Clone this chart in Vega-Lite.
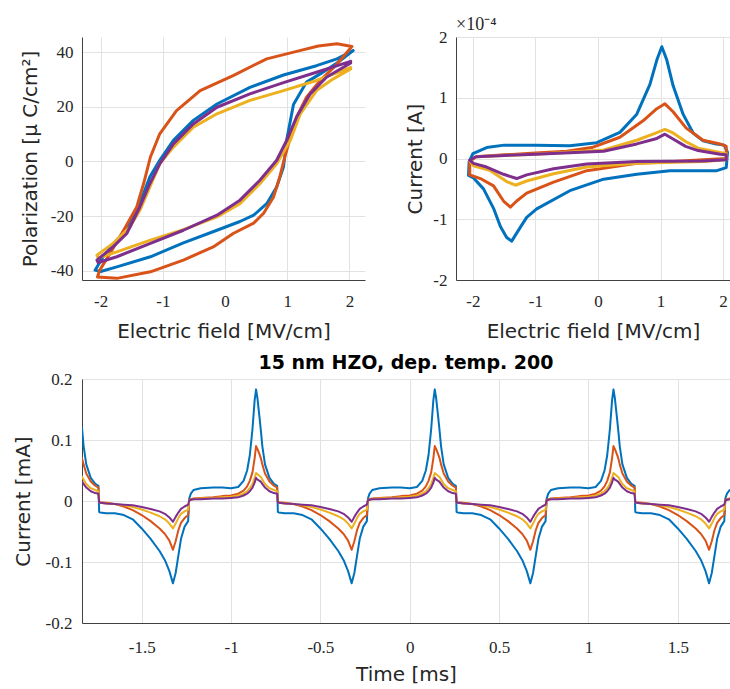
{
"$schema": "https://vega.github.io/schema/vega-lite/v6.json",
"background": "white",
"padding": {"left": 13, "top": 16, "right": 0, "bottom": 0},
"spacing": 13,
"config": {
  "view": {"stroke": null},
  "axis": {"domainColor": "#404040", "domainWidth": 1, "gridColor": "#e2e2e2", "gridWidth": 1, "ticks": false, "labelFont": "Liberation Serif", "labelFontSize": 17, "labelColor": "#262626", "labelFlush": false, "labelPadding": 9, "titleFont": "DejaVu Sans", "titleFontSize": 20, "titleFontWeight": "normal", "titleColor": "#262626", "labelExpr": "toString(datum.value)"},
  "line": {"strokeJoin": "round", "strokeCap": "round"}
},
"datasets": {
"pe": [
{"s":"1","o":1,"x":2.06,"y":40.5},{"s":"1","o":2,"x":1.8,"y":37.5},{"s":"1","o":3,"x":1.47,"y":35.0},{"s":"1","o":4,"x":0.94,"y":31.6},{"s":"1","o":5,"x":0.4,"y":27.1},{"s":"1","o":6,"x":-0.13,"y":21.0},{"s":"1","o":7,"x":-0.51,"y":15.0},{"s":"1","o":8,"x":-0.83,"y":7.7},{"s":"1","o":9,"x":-1.05,"y":0.4},{"s":"1","o":10,"x":-1.21,"y":-5.7},{"s":"1","o":11,"x":-1.31,"y":-11.8},{"s":"1","o":12,"x":-1.47,"y":-20.3},{"s":"1","o":13,"x":-1.69,"y":-27.6},{"s":"1","o":14,"x":-1.96,"y":-34.9},{"s":"1","o":15,"x":-2.09,"y":-39.8},{"s":"1","o":16,"x":-2.0,"y":-40.3},{"s":"1","o":17,"x":-1.74,"y":-38.6},{"s":"1","o":18,"x":-1.2,"y":-34.9},{"s":"1","o":19,"x":-0.67,"y":-29.8},{"s":"1","o":20,"x":-0.13,"y":-25.2},{"s":"1","o":21,"x":0.24,"y":-22.0},{"s":"1","o":22,"x":0.46,"y":-19.7},{"s":"1","o":23,"x":0.67,"y":-15.5},{"s":"1","o":24,"x":0.83,"y":-9.4},{"s":"1","o":25,"x":0.94,"y":-2.0},{"s":"1","o":26,"x":0.99,"y":7.7},{"s":"1","o":27,"x":1.1,"y":20.8},{"s":"1","o":28,"x":1.31,"y":29.0},{"s":"1","o":29,"x":1.53,"y":32.0},{"s":"1","o":30,"x":1.8,"y":36.0},{"s":"1","o":31,"x":2.06,"y":40.5},
{"s":"2","o":1,"x":2.04,"y":42.0},{"s":"2","o":2,"x":1.8,"y":43.0},{"s":"2","o":3,"x":1.5,"y":42.2},{"s":"2","o":4,"x":1.2,"y":40.5},{"s":"2","o":5,"x":0.67,"y":37.5},{"s":"2","o":6,"x":0.13,"y":31.4},{"s":"2","o":7,"x":-0.4,"y":25.9},{"s":"2","o":8,"x":-0.78,"y":18.6},{"s":"2","o":9,"x":-1.05,"y":10.1},{"s":"2","o":10,"x":-1.2,"y":1.6},{"s":"2","o":11,"x":-1.31,"y":-8.2},{"s":"2","o":12,"x":-1.42,"y":-16.7},{"s":"2","o":13,"x":-1.63,"y":-25.2},{"s":"2","o":14,"x":-1.85,"y":-33.7},{"s":"2","o":15,"x":-2.02,"y":-40.0},{"s":"2","o":16,"x":-2.05,"y":-42.3},{"s":"2","o":17,"x":-1.74,"y":-42.8},{"s":"2","o":18,"x":-1.2,"y":-40.4},{"s":"2","o":19,"x":-0.67,"y":-36.1},{"s":"2","o":20,"x":-0.19,"y":-31.3},{"s":"2","o":21,"x":0.13,"y":-26.4},{"s":"2","o":22,"x":0.46,"y":-22.6},{"s":"2","o":23,"x":0.62,"y":-19.0},{"s":"2","o":24,"x":0.78,"y":-13.0},{"s":"2","o":25,"x":0.88,"y":-5.7},{"s":"2","o":26,"x":0.96,"y":1.6},{"s":"2","o":27,"x":1.05,"y":8.8},{"s":"2","o":28,"x":1.15,"y":16.2},{"s":"2","o":29,"x":1.31,"y":23.5},{"s":"2","o":30,"x":1.53,"y":29.6},{"s":"2","o":31,"x":1.8,"y":35.6},{"s":"2","o":32,"x":2.04,"y":42.0},
{"s":"3","o":1,"x":2.02,"y":34.3},{"s":"3","o":2,"x":1.47,"y":29.6},{"s":"3","o":3,"x":0.94,"y":25.9},{"s":"3","o":4,"x":0.4,"y":22.3},{"s":"3","o":5,"x":-0.13,"y":17.4},{"s":"3","o":6,"x":-0.51,"y":12.5},{"s":"3","o":7,"x":-0.83,"y":5.2},{"s":"3","o":8,"x":-1.05,"y":-0.9},{"s":"3","o":9,"x":-1.21,"y":-9.4},{"s":"3","o":10,"x":-1.37,"y":-17.9},{"s":"3","o":11,"x":-1.53,"y":-24.0},{"s":"3","o":12,"x":-1.8,"y":-30.0},{"s":"3","o":13,"x":-2.06,"y":-34.3},{"s":"3","o":14,"x":-2.04,"y":-35.3},{"s":"3","o":15,"x":-1.74,"y":-33.1},{"s":"3","o":16,"x":-1.2,"y":-28.8},{"s":"3","o":17,"x":-0.67,"y":-25.0},{"s":"3","o":18,"x":-0.13,"y":-20.3},{"s":"3","o":19,"x":0.24,"y":-15.5},{"s":"3","o":20,"x":0.56,"y":-8.2},{"s":"3","o":21,"x":0.83,"y":-0.9},{"s":"3","o":22,"x":1.05,"y":7.7},{"s":"3","o":23,"x":1.21,"y":17.4},{"s":"3","o":24,"x":1.47,"y":25.9},{"s":"3","o":25,"x":1.74,"y":30.2},{"s":"3","o":26,"x":2.02,"y":33.8},
{"s":"4","o":1,"x":2.02,"y":36.6},{"s":"4","o":2,"x":1.47,"y":32.6},{"s":"4","o":3,"x":0.94,"y":28.8},{"s":"4","o":4,"x":0.4,"y":24.7},{"s":"4","o":5,"x":-0.13,"y":19.8},{"s":"4","o":6,"x":-0.51,"y":13.7},{"s":"4","o":7,"x":-0.83,"y":6.4},{"s":"4","o":8,"x":-1.05,"y":-0.9},{"s":"4","o":9,"x":-1.21,"y":-8.2},{"s":"4","o":10,"x":-1.37,"y":-16.7},{"s":"4","o":11,"x":-1.58,"y":-26.4},{"s":"4","o":12,"x":-1.8,"y":-31.3},{"s":"4","o":13,"x":-2.06,"y":-36.1},{"s":"4","o":14,"x":-2.04,"y":-37.0},{"s":"4","o":15,"x":-1.74,"y":-34.9},{"s":"4","o":16,"x":-1.2,"y":-30.0},{"s":"4","o":17,"x":-0.67,"y":-25.2},{"s":"4","o":18,"x":-0.13,"y":-19.7},{"s":"4","o":19,"x":0.24,"y":-14.2},{"s":"4","o":20,"x":0.56,"y":-6.9},{"s":"4","o":21,"x":0.83,"y":0.4},{"s":"4","o":22,"x":0.99,"y":7.7},{"s":"4","o":23,"x":1.15,"y":16.2},{"s":"4","o":24,"x":1.37,"y":24.7},{"s":"4","o":25,"x":1.63,"y":30.8},{"s":"4","o":26,"x":2.02,"y":36.0}
],
"ie": [
{"s":"1","o":1,"x":-2.06,"y":-0.05},{"s":"1","o":2,"x":-2.0,"y":0.08},{"s":"1","o":3,"x":-1.78,"y":0.18},{"s":"1","o":4,"x":-1.5,"y":0.22},{"s":"1","o":5,"x":-1.0,"y":0.22},{"s":"1","o":6,"x":-0.45,"y":0.21},{"s":"1","o":7,"x":-0.02,"y":0.26},{"s":"1","o":8,"x":0.35,"y":0.43},{"s":"1","o":9,"x":0.62,"y":0.73},{"s":"1","o":10,"x":0.83,"y":1.22},{"s":"1","o":11,"x":0.94,"y":1.62},{"s":"1","o":12,"x":1.02,"y":1.84},{"s":"1","o":13,"x":1.1,"y":1.62},{"s":"1","o":14,"x":1.2,"y":1.2},{"s":"1","o":15,"x":1.36,"y":0.73},{"s":"1","o":16,"x":1.52,"y":0.42},{"s":"1","o":17,"x":1.68,"y":0.29},{"s":"1","o":18,"x":1.89,"y":0.24},{"s":"1","o":19,"x":2.02,"y":0.22},{"s":"1","o":20,"x":2.07,"y":0.1},{"s":"1","o":21,"x":2.05,"y":-0.15},{"s":"1","o":22,"x":1.9,"y":-0.2},{"s":"1","o":23,"x":1.15,"y":-0.2},{"s":"1","o":24,"x":0.62,"y":-0.26},{"s":"1","o":25,"x":0.09,"y":-0.34},{"s":"1","o":26,"x":-0.45,"y":-0.53},{"s":"1","o":27,"x":-0.98,"y":-0.83},{"s":"1","o":28,"x":-1.14,"y":-0.97},{"s":"1","o":29,"x":-1.24,"y":-1.13},{"s":"1","o":30,"x":-1.38,"y":-1.36},{"s":"1","o":31,"x":-1.46,"y":-1.3},{"s":"1","o":32,"x":-1.56,"y":-1.12},{"s":"1","o":33,"x":-1.67,"y":-0.82},{"s":"1","o":34,"x":-1.83,"y":-0.5},{"s":"1","o":35,"x":-1.99,"y":-0.32},{"s":"1","o":36,"x":-2.07,"y":-0.28},{"s":"1","o":37,"x":-2.06,"y":-0.05},
{"s":"2","o":1,"x":-2.05,"y":-0.05},{"s":"2","o":2,"x":-1.95,"y":0.03},{"s":"2","o":3,"x":-1.5,"y":0.06},{"s":"2","o":4,"x":-1.0,"y":0.09},{"s":"2","o":5,"x":-0.5,"y":0.12},{"s":"2","o":6,"x":-0.1,"y":0.18},{"s":"2","o":7,"x":0.35,"y":0.35},{"s":"2","o":8,"x":0.72,"y":0.62},{"s":"2","o":9,"x":0.94,"y":0.82},{"s":"2","o":10,"x":1.07,"y":0.9},{"s":"2","o":11,"x":1.2,"y":0.77},{"s":"2","o":12,"x":1.41,"y":0.5},{"s":"2","o":13,"x":1.68,"y":0.3},{"s":"2","o":14,"x":1.95,"y":0.24},{"s":"2","o":15,"x":2.05,"y":0.2},{"s":"2","o":16,"x":2.05,"y":0.0},{"s":"2","o":17,"x":1.68,"y":-0.02},{"s":"2","o":18,"x":1.0,"y":-0.06},{"s":"2","o":19,"x":0.62,"y":-0.08},{"s":"2","o":20,"x":-0.18,"y":-0.2},{"s":"2","o":21,"x":-0.71,"y":-0.39},{"s":"2","o":22,"x":-1.14,"y":-0.57},{"s":"2","o":23,"x":-1.3,"y":-0.7},{"s":"2","o":24,"x":-1.4,"y":-0.8},{"s":"2","o":25,"x":-1.51,"y":-0.7},{"s":"2","o":26,"x":-1.67,"y":-0.45},{"s":"2","o":27,"x":-1.88,"y":-0.33},{"s":"2","o":28,"x":-2.05,"y":-0.27},{"s":"2","o":29,"x":-2.05,"y":-0.05},
{"s":"3","o":1,"x":-2.05,"y":-0.04},{"s":"3","o":2,"x":-1.95,"y":0.03},{"s":"3","o":3,"x":-1.0,"y":0.07},{"s":"3","o":4,"x":0.09,"y":0.14},{"s":"3","o":5,"x":0.62,"y":0.3},{"s":"3","o":6,"x":0.9,"y":0.41},{"s":"3","o":7,"x":1.07,"y":0.48},{"s":"3","o":8,"x":1.2,"y":0.42},{"s":"3","o":9,"x":1.4,"y":0.28},{"s":"3","o":10,"x":1.6,"y":0.17},{"s":"3","o":11,"x":1.95,"y":0.1},{"s":"3","o":12,"x":2.05,"y":0.08},{"s":"3","o":13,"x":2.05,"y":-0.02},{"s":"3","o":14,"x":1.68,"y":-0.05},{"s":"3","o":15,"x":0.62,"y":-0.08},{"s":"3","o":16,"x":-0.18,"y":-0.14},{"s":"3","o":17,"x":-0.71,"y":-0.25},{"s":"3","o":18,"x":-1.14,"y":-0.37},{"s":"3","o":19,"x":-1.32,"y":-0.44},{"s":"3","o":20,"x":-1.46,"y":-0.38},{"s":"3","o":21,"x":-1.72,"y":-0.2},{"s":"3","o":22,"x":-1.99,"y":-0.12},{"s":"3","o":23,"x":-2.05,"y":-0.04},
{"s":"4","o":1,"x":-2.05,"y":-0.03},{"s":"4","o":2,"x":-1.95,"y":0.03},{"s":"4","o":3,"x":-1.0,"y":0.07},{"s":"4","o":4,"x":0.09,"y":0.12},{"s":"4","o":5,"x":0.62,"y":0.24},{"s":"4","o":6,"x":0.94,"y":0.33},{"s":"4","o":7,"x":1.07,"y":0.4},{"s":"4","o":8,"x":1.2,"y":0.32},{"s":"4","o":9,"x":1.4,"y":0.2},{"s":"4","o":10,"x":1.6,"y":0.13},{"s":"4","o":11,"x":1.95,"y":0.07},{"s":"4","o":12,"x":2.05,"y":0.06},{"s":"4","o":13,"x":2.05,"y":-0.02},{"s":"4","o":14,"x":1.68,"y":-0.04},{"s":"4","o":15,"x":0.62,"y":-0.05},{"s":"4","o":16,"x":-0.18,"y":-0.09},{"s":"4","o":17,"x":-0.71,"y":-0.17},{"s":"4","o":18,"x":-1.14,"y":-0.27},{"s":"4","o":19,"x":-1.3,"y":-0.33},{"s":"4","o":20,"x":-1.51,"y":-0.26},{"s":"4","o":21,"x":-1.78,"y":-0.14},{"s":"4","o":22,"x":-1.99,"y":-0.08},{"s":"4","o":23,"x":-2.05,"y":-0.03}
],
"it": [
{"s":"1","t":-1.834,"v":0.12},{"s":"1","t":-1.825,"v":0.09},{"s":"1","t":-1.81,"v":0.06},{"s":"1","t":-1.785,"v":0.038},{"s":"1","t":-1.76,"v":0.028},{"s":"1","t":-1.742,"v":0.025},{"s":"1","t":-1.738,"v":-0.018},{"s":"1","t":-1.732,"v":-0.019},{"s":"1","t":-1.7,"v":-0.02},{"s":"1","t":-1.65,"v":-0.02},{"s":"1","t":-1.6,"v":-0.023},{"s":"1","t":-1.55,"v":-0.03},{"s":"1","t":-1.5,"v":-0.045},{"s":"1","t":-1.45,"v":-0.062},{"s":"1","t":-1.4,"v":-0.082},{"s":"1","t":-1.37,"v":-0.097},{"s":"1","t":-1.345,"v":-0.115},{"s":"1","t":-1.325,"v":-0.135},{"s":"1","t":-1.31,"v":-0.118},{"s":"1","t":-1.295,"v":-0.09},{"s":"1","t":-1.28,"v":-0.062},{"s":"1","t":-1.26,"v":-0.042},{"s":"1","t":-1.24,"v":-0.033},{"s":"1","t":-1.234,"v":0.004},{"s":"1","t":-1.225,"v":0.012},{"s":"1","t":-1.21,"v":0.018},{"s":"1","t":-1.17,"v":0.021},{"s":"1","t":-1.1,"v":0.022},{"s":"1","t":-1.05,"v":0.022},
{"s":"1","t":-1,"v":0.021},{"s":"1","t":-0.96,"v":0.023},{"s":"1","t":-0.93,"v":0.033},{"s":"1","t":-0.91,"v":0.05},{"s":"1","t":-0.895,"v":0.075},{"s":"1","t":-0.88,"v":0.118},{"s":"1","t":-0.868,"v":0.165},{"s":"1","t":-0.86,"v":0.183},{"s":"1","t":-0.852,"v":0.168},{"s":"1","t":-0.84,"v":0.135},{"s":"1","t":-0.832,"v":0.112},{"s":"1","t":-0.825,"v":0.09},{"s":"1","t":-0.81,"v":0.06},{"s":"1","t":-0.785,"v":0.038},{"s":"1","t":-0.76,"v":0.028},{"s":"1","t":-0.742,"v":0.025},{"s":"1","t":-0.738,"v":-0.018},{"s":"1","t":-0.732,"v":-0.019},{"s":"1","t":-0.7,"v":-0.02},{"s":"1","t":-0.65,"v":-0.02},{"s":"1","t":-0.6,"v":-0.023},{"s":"1","t":-0.55,"v":-0.03},{"s":"1","t":-0.5,"v":-0.045},{"s":"1","t":-0.45,"v":-0.062},{"s":"1","t":-0.4,"v":-0.082},{"s":"1","t":-0.37,"v":-0.097},{"s":"1","t":-0.345,"v":-0.115},{"s":"1","t":-0.325,"v":-0.135},{"s":"1","t":-0.31,"v":-0.118},{"s":"1","t":-0.295,"v":-0.09},{"s":"1","t":-0.28,"v":-0.062},{"s":"1","t":-0.26,"v":-0.042},{"s":"1","t":-0.24,"v":-0.033},{"s":"1","t":-0.234,"v":0.004},{"s":"1","t":-0.225,"v":0.012},{"s":"1","t":-0.21,"v":0.018},{"s":"1","t":-0.17,"v":0.021},{"s":"1","t":-0.1,"v":0.022},{"s":"1","t":-0.05,"v":0.022},
{"s":"1","t":0,"v":0.021},{"s":"1","t":0.04,"v":0.023},{"s":"1","t":0.07,"v":0.033},{"s":"1","t":0.09,"v":0.05},{"s":"1","t":0.105,"v":0.075},{"s":"1","t":0.12,"v":0.118},{"s":"1","t":0.132,"v":0.165},{"s":"1","t":0.14,"v":0.183},{"s":"1","t":0.148,"v":0.168},{"s":"1","t":0.16,"v":0.135},{"s":"1","t":0.168,"v":0.112},{"s":"1","t":0.175,"v":0.09},{"s":"1","t":0.19,"v":0.06},{"s":"1","t":0.215,"v":0.038},{"s":"1","t":0.24,"v":0.028},{"s":"1","t":0.258,"v":0.025},{"s":"1","t":0.262,"v":-0.018},{"s":"1","t":0.268,"v":-0.019},{"s":"1","t":0.3,"v":-0.02},{"s":"1","t":0.35,"v":-0.02},{"s":"1","t":0.4,"v":-0.023},{"s":"1","t":0.45,"v":-0.03},{"s":"1","t":0.5,"v":-0.045},{"s":"1","t":0.55,"v":-0.062},{"s":"1","t":0.6,"v":-0.082},{"s":"1","t":0.63,"v":-0.097},{"s":"1","t":0.655,"v":-0.115},{"s":"1","t":0.675,"v":-0.135},{"s":"1","t":0.69,"v":-0.118},{"s":"1","t":0.705,"v":-0.09},{"s":"1","t":0.72,"v":-0.062},{"s":"1","t":0.74,"v":-0.042},{"s":"1","t":0.76,"v":-0.033},{"s":"1","t":0.766,"v":0.004},{"s":"1","t":0.775,"v":0.012},{"s":"1","t":0.79,"v":0.018},{"s":"1","t":0.83,"v":0.021},{"s":"1","t":0.9,"v":0.022},{"s":"1","t":0.95,"v":0.022},
{"s":"1","t":1,"v":0.021},{"s":"1","t":1.04,"v":0.023},{"s":"1","t":1.07,"v":0.033},{"s":"1","t":1.09,"v":0.05},{"s":"1","t":1.105,"v":0.075},{"s":"1","t":1.12,"v":0.118},{"s":"1","t":1.132,"v":0.165},{"s":"1","t":1.14,"v":0.183},{"s":"1","t":1.148,"v":0.168},{"s":"1","t":1.16,"v":0.135},{"s":"1","t":1.168,"v":0.112},{"s":"1","t":1.175,"v":0.09},{"s":"1","t":1.19,"v":0.06},{"s":"1","t":1.215,"v":0.038},{"s":"1","t":1.24,"v":0.028},{"s":"1","t":1.258,"v":0.025},{"s":"1","t":1.262,"v":-0.018},{"s":"1","t":1.268,"v":-0.019},{"s":"1","t":1.3,"v":-0.02},{"s":"1","t":1.35,"v":-0.02},{"s":"1","t":1.4,"v":-0.023},{"s":"1","t":1.45,"v":-0.03},{"s":"1","t":1.5,"v":-0.045},{"s":"1","t":1.55,"v":-0.062},{"s":"1","t":1.6,"v":-0.082},{"s":"1","t":1.63,"v":-0.097},{"s":"1","t":1.655,"v":-0.115},{"s":"1","t":1.675,"v":-0.135},{"s":"1","t":1.69,"v":-0.118},{"s":"1","t":1.705,"v":-0.09},{"s":"1","t":1.72,"v":-0.062},{"s":"1","t":1.74,"v":-0.042},{"s":"1","t":1.76,"v":-0.033},{"s":"1","t":1.766,"v":0.004},{"s":"1","t":1.775,"v":0.012},{"s":"1","t":1.79,"v":0.018},

{"s":"2","t":-1.834,"v":0.07},{"s":"2","t":-1.825,"v":0.06},{"s":"2","t":-1.81,"v":0.045},{"s":"2","t":-1.785,"v":0.032},{"s":"2","t":-1.76,"v":0.025},{"s":"2","t":-1.742,"v":0.022},{"s":"2","t":-1.738,"v":-0.001},{"s":"2","t":-1.732,"v":-0.002},{"s":"2","t":-1.7,"v":-0.003},{"s":"2","t":-1.65,"v":-0.005},{"s":"2","t":-1.6,"v":-0.009},{"s":"2","t":-1.55,"v":-0.015},{"s":"2","t":-1.5,"v":-0.023},{"s":"2","t":-1.45,"v":-0.033},{"s":"2","t":-1.4,"v":-0.045},{"s":"2","t":-1.37,"v":-0.054},{"s":"2","t":-1.345,"v":-0.065},{"s":"2","t":-1.325,"v":-0.08},{"s":"2","t":-1.31,"v":-0.066},{"s":"2","t":-1.295,"v":-0.048},{"s":"2","t":-1.28,"v":-0.036},{"s":"2","t":-1.26,"v":-0.028},{"s":"2","t":-1.24,"v":-0.023},{"s":"2","t":-1.234,"v":0.002},{"s":"2","t":-1.225,"v":0.003},{"s":"2","t":-1.21,"v":0.004},{"s":"2","t":-1.17,"v":0.005},{"s":"2","t":-1.1,"v":0.006},{"s":"2","t":-1.05,"v":0.008},
{"s":"2","t":-1,"v":0.009},{"s":"2","t":-0.96,"v":0.012},{"s":"2","t":-0.93,"v":0.017},{"s":"2","t":-0.91,"v":0.024},{"s":"2","t":-0.895,"v":0.033},{"s":"2","t":-0.88,"v":0.047},{"s":"2","t":-0.868,"v":0.07},{"s":"2","t":-0.86,"v":0.09},{"s":"2","t":-0.852,"v":0.085},{"s":"2","t":-0.84,"v":0.076},{"s":"2","t":-0.832,"v":0.069},{"s":"2","t":-0.825,"v":0.06},{"s":"2","t":-0.81,"v":0.045},{"s":"2","t":-0.785,"v":0.032},{"s":"2","t":-0.76,"v":0.025},{"s":"2","t":-0.742,"v":0.022},{"s":"2","t":-0.738,"v":-0.001},{"s":"2","t":-0.732,"v":-0.002},{"s":"2","t":-0.7,"v":-0.003},{"s":"2","t":-0.65,"v":-0.005},{"s":"2","t":-0.6,"v":-0.009},{"s":"2","t":-0.55,"v":-0.015},{"s":"2","t":-0.5,"v":-0.023},{"s":"2","t":-0.45,"v":-0.033},{"s":"2","t":-0.4,"v":-0.045},{"s":"2","t":-0.37,"v":-0.054},{"s":"2","t":-0.345,"v":-0.065},{"s":"2","t":-0.325,"v":-0.08},{"s":"2","t":-0.31,"v":-0.066},{"s":"2","t":-0.295,"v":-0.048},{"s":"2","t":-0.28,"v":-0.036},{"s":"2","t":-0.26,"v":-0.028},{"s":"2","t":-0.24,"v":-0.023},{"s":"2","t":-0.234,"v":0.002},{"s":"2","t":-0.225,"v":0.003},{"s":"2","t":-0.21,"v":0.004},{"s":"2","t":-0.17,"v":0.005},{"s":"2","t":-0.1,"v":0.006},{"s":"2","t":-0.05,"v":0.008},
{"s":"2","t":0,"v":0.009},{"s":"2","t":0.04,"v":0.012},{"s":"2","t":0.07,"v":0.017},{"s":"2","t":0.09,"v":0.024},{"s":"2","t":0.105,"v":0.033},{"s":"2","t":0.12,"v":0.047},{"s":"2","t":0.132,"v":0.07},{"s":"2","t":0.14,"v":0.09},{"s":"2","t":0.148,"v":0.085},{"s":"2","t":0.16,"v":0.076},{"s":"2","t":0.168,"v":0.069},{"s":"2","t":0.175,"v":0.06},{"s":"2","t":0.19,"v":0.045},{"s":"2","t":0.215,"v":0.032},{"s":"2","t":0.24,"v":0.025},{"s":"2","t":0.258,"v":0.022},{"s":"2","t":0.262,"v":-0.001},{"s":"2","t":0.268,"v":-0.002},{"s":"2","t":0.3,"v":-0.003},{"s":"2","t":0.35,"v":-0.005},{"s":"2","t":0.4,"v":-0.009},{"s":"2","t":0.45,"v":-0.015},{"s":"2","t":0.5,"v":-0.023},{"s":"2","t":0.55,"v":-0.033},{"s":"2","t":0.6,"v":-0.045},{"s":"2","t":0.63,"v":-0.054},{"s":"2","t":0.655,"v":-0.065},{"s":"2","t":0.675,"v":-0.08},{"s":"2","t":0.69,"v":-0.066},{"s":"2","t":0.705,"v":-0.048},{"s":"2","t":0.72,"v":-0.036},{"s":"2","t":0.74,"v":-0.028},{"s":"2","t":0.76,"v":-0.023},{"s":"2","t":0.766,"v":0.002},{"s":"2","t":0.775,"v":0.003},{"s":"2","t":0.79,"v":0.004},{"s":"2","t":0.83,"v":0.005},{"s":"2","t":0.9,"v":0.006},{"s":"2","t":0.95,"v":0.008},
{"s":"2","t":1,"v":0.009},{"s":"2","t":1.04,"v":0.012},{"s":"2","t":1.07,"v":0.017},{"s":"2","t":1.09,"v":0.024},{"s":"2","t":1.105,"v":0.033},{"s":"2","t":1.12,"v":0.047},{"s":"2","t":1.132,"v":0.07},{"s":"2","t":1.14,"v":0.09},{"s":"2","t":1.148,"v":0.085},{"s":"2","t":1.16,"v":0.076},{"s":"2","t":1.168,"v":0.069},{"s":"2","t":1.175,"v":0.06},{"s":"2","t":1.19,"v":0.045},{"s":"2","t":1.215,"v":0.032},{"s":"2","t":1.24,"v":0.025},{"s":"2","t":1.258,"v":0.022},{"s":"2","t":1.262,"v":-0.001},{"s":"2","t":1.268,"v":-0.002},{"s":"2","t":1.3,"v":-0.003},{"s":"2","t":1.35,"v":-0.005},{"s":"2","t":1.4,"v":-0.009},{"s":"2","t":1.45,"v":-0.015},{"s":"2","t":1.5,"v":-0.023},{"s":"2","t":1.55,"v":-0.033},{"s":"2","t":1.6,"v":-0.045},{"s":"2","t":1.63,"v":-0.054},{"s":"2","t":1.655,"v":-0.065},{"s":"2","t":1.675,"v":-0.08},{"s":"2","t":1.69,"v":-0.066},{"s":"2","t":1.705,"v":-0.048},{"s":"2","t":1.72,"v":-0.036},{"s":"2","t":1.74,"v":-0.028},{"s":"2","t":1.76,"v":-0.023},{"s":"2","t":1.766,"v":0.002},{"s":"2","t":1.775,"v":0.003},{"s":"2","t":1.79,"v":0.004},

{"s":"3","t":-1.834,"v":0.04},{"s":"3","t":-1.825,"v":0.035},{"s":"3","t":-1.81,"v":0.028},{"s":"3","t":-1.785,"v":0.021},{"s":"3","t":-1.76,"v":0.018},{"s":"3","t":-1.742,"v":0.016},{"s":"3","t":-1.738,"v":-0.002},{"s":"3","t":-1.732,"v":-0.003},{"s":"3","t":-1.7,"v":-0.004},{"s":"3","t":-1.65,"v":-0.005},{"s":"3","t":-1.6,"v":-0.007},{"s":"3","t":-1.55,"v":-0.01},{"s":"3","t":-1.5,"v":-0.014},{"s":"3","t":-1.45,"v":-0.019},{"s":"3","t":-1.4,"v":-0.025},{"s":"3","t":-1.37,"v":-0.03},{"s":"3","t":-1.345,"v":-0.037},{"s":"3","t":-1.325,"v":-0.045},{"s":"3","t":-1.31,"v":-0.037},{"s":"3","t":-1.295,"v":-0.028},{"s":"3","t":-1.28,"v":-0.021},{"s":"3","t":-1.26,"v":-0.017},{"s":"3","t":-1.24,"v":-0.014},{"s":"3","t":-1.234,"v":0.001},{"s":"3","t":-1.225,"v":0.002},{"s":"3","t":-1.21,"v":0.003},{"s":"3","t":-1.17,"v":0.004},{"s":"3","t":-1.1,"v":0.005},{"s":"3","t":-1.05,"v":0.006},
{"s":"3","t":-1,"v":0.007},{"s":"3","t":-0.96,"v":0.009},{"s":"3","t":-0.93,"v":0.012},{"s":"3","t":-0.91,"v":0.016},{"s":"3","t":-0.895,"v":0.021},{"s":"3","t":-0.88,"v":0.028},{"s":"3","t":-0.868,"v":0.038},{"s":"3","t":-0.86,"v":0.046},{"s":"3","t":-0.852,"v":0.044},{"s":"3","t":-0.84,"v":0.041},{"s":"3","t":-0.832,"v":0.039},{"s":"3","t":-0.825,"v":0.035},{"s":"3","t":-0.81,"v":0.028},{"s":"3","t":-0.785,"v":0.021},{"s":"3","t":-0.76,"v":0.018},{"s":"3","t":-0.742,"v":0.016},{"s":"3","t":-0.738,"v":-0.002},{"s":"3","t":-0.732,"v":-0.003},{"s":"3","t":-0.7,"v":-0.004},{"s":"3","t":-0.65,"v":-0.005},{"s":"3","t":-0.6,"v":-0.007},{"s":"3","t":-0.55,"v":-0.01},{"s":"3","t":-0.5,"v":-0.014},{"s":"3","t":-0.45,"v":-0.019},{"s":"3","t":-0.4,"v":-0.025},{"s":"3","t":-0.37,"v":-0.03},{"s":"3","t":-0.345,"v":-0.037},{"s":"3","t":-0.325,"v":-0.045},{"s":"3","t":-0.31,"v":-0.037},{"s":"3","t":-0.295,"v":-0.028},{"s":"3","t":-0.28,"v":-0.021},{"s":"3","t":-0.26,"v":-0.017},{"s":"3","t":-0.24,"v":-0.014},{"s":"3","t":-0.234,"v":0.001},{"s":"3","t":-0.225,"v":0.002},{"s":"3","t":-0.21,"v":0.003},{"s":"3","t":-0.17,"v":0.004},{"s":"3","t":-0.1,"v":0.005},{"s":"3","t":-0.05,"v":0.006},
{"s":"3","t":0,"v":0.007},{"s":"3","t":0.04,"v":0.009},{"s":"3","t":0.07,"v":0.012},{"s":"3","t":0.09,"v":0.016},{"s":"3","t":0.105,"v":0.021},{"s":"3","t":0.12,"v":0.028},{"s":"3","t":0.132,"v":0.038},{"s":"3","t":0.14,"v":0.046},{"s":"3","t":0.148,"v":0.044},{"s":"3","t":0.16,"v":0.041},{"s":"3","t":0.168,"v":0.039},{"s":"3","t":0.175,"v":0.035},{"s":"3","t":0.19,"v":0.028},{"s":"3","t":0.215,"v":0.021},{"s":"3","t":0.24,"v":0.018},{"s":"3","t":0.258,"v":0.016},{"s":"3","t":0.262,"v":-0.002},{"s":"3","t":0.268,"v":-0.003},{"s":"3","t":0.3,"v":-0.004},{"s":"3","t":0.35,"v":-0.005},{"s":"3","t":0.4,"v":-0.007},{"s":"3","t":0.45,"v":-0.01},{"s":"3","t":0.5,"v":-0.014},{"s":"3","t":0.55,"v":-0.019},{"s":"3","t":0.6,"v":-0.025},{"s":"3","t":0.63,"v":-0.03},{"s":"3","t":0.655,"v":-0.037},{"s":"3","t":0.675,"v":-0.045},{"s":"3","t":0.69,"v":-0.037},{"s":"3","t":0.705,"v":-0.028},{"s":"3","t":0.72,"v":-0.021},{"s":"3","t":0.74,"v":-0.017},{"s":"3","t":0.76,"v":-0.014},{"s":"3","t":0.766,"v":0.001},{"s":"3","t":0.775,"v":0.002},{"s":"3","t":0.79,"v":0.003},{"s":"3","t":0.83,"v":0.004},{"s":"3","t":0.9,"v":0.005},{"s":"3","t":0.95,"v":0.006},
{"s":"3","t":1,"v":0.007},{"s":"3","t":1.04,"v":0.009},{"s":"3","t":1.07,"v":0.012},{"s":"3","t":1.09,"v":0.016},{"s":"3","t":1.105,"v":0.021},{"s":"3","t":1.12,"v":0.028},{"s":"3","t":1.132,"v":0.038},{"s":"3","t":1.14,"v":0.046},{"s":"3","t":1.148,"v":0.044},{"s":"3","t":1.16,"v":0.041},{"s":"3","t":1.168,"v":0.039},{"s":"3","t":1.175,"v":0.035},{"s":"3","t":1.19,"v":0.028},{"s":"3","t":1.215,"v":0.021},{"s":"3","t":1.24,"v":0.018},{"s":"3","t":1.258,"v":0.016},{"s":"3","t":1.262,"v":-0.002},{"s":"3","t":1.268,"v":-0.003},{"s":"3","t":1.3,"v":-0.004},{"s":"3","t":1.35,"v":-0.005},{"s":"3","t":1.4,"v":-0.007},{"s":"3","t":1.45,"v":-0.01},{"s":"3","t":1.5,"v":-0.014},{"s":"3","t":1.55,"v":-0.019},{"s":"3","t":1.6,"v":-0.025},{"s":"3","t":1.63,"v":-0.03},{"s":"3","t":1.655,"v":-0.037},{"s":"3","t":1.675,"v":-0.045},{"s":"3","t":1.69,"v":-0.037},{"s":"3","t":1.705,"v":-0.028},{"s":"3","t":1.72,"v":-0.021},{"s":"3","t":1.74,"v":-0.017},{"s":"3","t":1.76,"v":-0.014},{"s":"3","t":1.766,"v":0.001},{"s":"3","t":1.775,"v":0.002},{"s":"3","t":1.79,"v":0.003},

{"s":"4","t":-1.834,"v":0.032},{"s":"4","t":-1.825,"v":0.028},{"s":"4","t":-1.81,"v":0.022},{"s":"4","t":-1.785,"v":0.016},{"s":"4","t":-1.76,"v":0.013},{"s":"4","t":-1.742,"v":0.012},{"s":"4","t":-1.738,"v":-0.002},{"s":"4","t":-1.732,"v":-0.003},{"s":"4","t":-1.7,"v":-0.004},{"s":"4","t":-1.65,"v":-0.005},{"s":"4","t":-1.6,"v":-0.006},{"s":"4","t":-1.55,"v":-0.007},{"s":"4","t":-1.5,"v":-0.01},{"s":"4","t":-1.45,"v":-0.013},{"s":"4","t":-1.4,"v":-0.017},{"s":"4","t":-1.37,"v":-0.021},{"s":"4","t":-1.345,"v":-0.027},{"s":"4","t":-1.325,"v":-0.034},{"s":"4","t":-1.31,"v":-0.026},{"s":"4","t":-1.295,"v":-0.019},{"s":"4","t":-1.28,"v":-0.013},{"s":"4","t":-1.26,"v":-0.009},{"s":"4","t":-1.24,"v":-0.006},{"s":"4","t":-1.234,"v":0.001},{"s":"4","t":-1.225,"v":0.002},{"s":"4","t":-1.21,"v":0.003},{"s":"4","t":-1.17,"v":0.003},{"s":"4","t":-1.1,"v":0.004},{"s":"4","t":-1.05,"v":0.004},
{"s":"4","t":-1,"v":0.005},{"s":"4","t":-0.96,"v":0.006},{"s":"4","t":-0.93,"v":0.009},{"s":"4","t":-0.91,"v":0.012},{"s":"4","t":-0.895,"v":0.016},{"s":"4","t":-0.88,"v":0.022},{"s":"4","t":-0.868,"v":0.03},{"s":"4","t":-0.86,"v":0.038},{"s":"4","t":-0.852,"v":0.035},{"s":"4","t":-0.84,"v":0.033},{"s":"4","t":-0.832,"v":0.031},{"s":"4","t":-0.825,"v":0.028},{"s":"4","t":-0.81,"v":0.022},{"s":"4","t":-0.785,"v":0.016},{"s":"4","t":-0.76,"v":0.013},{"s":"4","t":-0.742,"v":0.012},{"s":"4","t":-0.738,"v":-0.002},{"s":"4","t":-0.732,"v":-0.003},{"s":"4","t":-0.7,"v":-0.004},{"s":"4","t":-0.65,"v":-0.005},{"s":"4","t":-0.6,"v":-0.006},{"s":"4","t":-0.55,"v":-0.007},{"s":"4","t":-0.5,"v":-0.01},{"s":"4","t":-0.45,"v":-0.013},{"s":"4","t":-0.4,"v":-0.017},{"s":"4","t":-0.37,"v":-0.021},{"s":"4","t":-0.345,"v":-0.027},{"s":"4","t":-0.325,"v":-0.034},{"s":"4","t":-0.31,"v":-0.026},{"s":"4","t":-0.295,"v":-0.019},{"s":"4","t":-0.28,"v":-0.013},{"s":"4","t":-0.26,"v":-0.009},{"s":"4","t":-0.24,"v":-0.006},{"s":"4","t":-0.234,"v":0.001},{"s":"4","t":-0.225,"v":0.002},{"s":"4","t":-0.21,"v":0.003},{"s":"4","t":-0.17,"v":0.003},{"s":"4","t":-0.1,"v":0.004},{"s":"4","t":-0.05,"v":0.004},
{"s":"4","t":0,"v":0.005},{"s":"4","t":0.04,"v":0.006},{"s":"4","t":0.07,"v":0.009},{"s":"4","t":0.09,"v":0.012},{"s":"4","t":0.105,"v":0.016},{"s":"4","t":0.12,"v":0.022},{"s":"4","t":0.132,"v":0.03},{"s":"4","t":0.14,"v":0.038},{"s":"4","t":0.148,"v":0.035},{"s":"4","t":0.16,"v":0.033},{"s":"4","t":0.168,"v":0.031},{"s":"4","t":0.175,"v":0.028},{"s":"4","t":0.19,"v":0.022},{"s":"4","t":0.215,"v":0.016},{"s":"4","t":0.24,"v":0.013},{"s":"4","t":0.258,"v":0.012},{"s":"4","t":0.262,"v":-0.002},{"s":"4","t":0.268,"v":-0.003},{"s":"4","t":0.3,"v":-0.004},{"s":"4","t":0.35,"v":-0.005},{"s":"4","t":0.4,"v":-0.006},{"s":"4","t":0.45,"v":-0.007},{"s":"4","t":0.5,"v":-0.01},{"s":"4","t":0.55,"v":-0.013},{"s":"4","t":0.6,"v":-0.017},{"s":"4","t":0.63,"v":-0.021},{"s":"4","t":0.655,"v":-0.027},{"s":"4","t":0.675,"v":-0.034},{"s":"4","t":0.69,"v":-0.026},{"s":"4","t":0.705,"v":-0.019},{"s":"4","t":0.72,"v":-0.013},{"s":"4","t":0.74,"v":-0.009},{"s":"4","t":0.76,"v":-0.006},{"s":"4","t":0.766,"v":0.001},{"s":"4","t":0.775,"v":0.002},{"s":"4","t":0.79,"v":0.003},{"s":"4","t":0.83,"v":0.003},{"s":"4","t":0.9,"v":0.004},{"s":"4","t":0.95,"v":0.004},
{"s":"4","t":1,"v":0.005},{"s":"4","t":1.04,"v":0.006},{"s":"4","t":1.07,"v":0.009},{"s":"4","t":1.09,"v":0.012},{"s":"4","t":1.105,"v":0.016},{"s":"4","t":1.12,"v":0.022},{"s":"4","t":1.132,"v":0.03},{"s":"4","t":1.14,"v":0.038},{"s":"4","t":1.148,"v":0.035},{"s":"4","t":1.16,"v":0.033},{"s":"4","t":1.168,"v":0.031},{"s":"4","t":1.175,"v":0.028},{"s":"4","t":1.19,"v":0.022},{"s":"4","t":1.215,"v":0.016},{"s":"4","t":1.24,"v":0.013},{"s":"4","t":1.258,"v":0.012},{"s":"4","t":1.262,"v":-0.002},{"s":"4","t":1.268,"v":-0.003},{"s":"4","t":1.3,"v":-0.004},{"s":"4","t":1.35,"v":-0.005},{"s":"4","t":1.4,"v":-0.006},{"s":"4","t":1.45,"v":-0.007},{"s":"4","t":1.5,"v":-0.01},{"s":"4","t":1.55,"v":-0.013},{"s":"4","t":1.6,"v":-0.017},{"s":"4","t":1.63,"v":-0.021},{"s":"4","t":1.655,"v":-0.027},{"s":"4","t":1.675,"v":-0.034},{"s":"4","t":1.69,"v":-0.026},{"s":"4","t":1.705,"v":-0.019},{"s":"4","t":1.72,"v":-0.013},{"s":"4","t":1.74,"v":-0.009},{"s":"4","t":1.76,"v":-0.006},{"s":"4","t":1.766,"v":0.001},{"s":"4","t":1.775,"v":0.002},{"s":"4","t":1.79,"v":0.003}
]
},
"vconcat": [
  {
    "bounds": "flush",
    "spacing": 91,
    "hconcat": [
      {
        "width": 283, "height": 243,
        "data": {"name": "pe"},
        "mark": {"type": "line", "strokeWidth": 3, "clip": true},
        "encoding": {
          "x": {"field": "x", "type": "quantitative", "scale": {"domain": [-2.3, 2.25], "nice": false, "zero": false},
                "axis": {"values": [-2, -1, 0, 1, 2], "title": "Electric field [MV/cm]", "labelPadding": 13, "titlePadding": 12}},
          "y": {"field": "y", "type": "quantitative", "scale": {"domain": [-43.4, 45.5], "nice": false, "zero": false},
                "axis": {"values": [-40, -20, 0, 20, 40], "title": "Polarization [μ C/cm²]", "titlePadding": 10}},
          "color": {"field": "s", "type": "nominal", "scale": {"domain": ["1", "2", "3", "4"], "range": ["#0072BD", "#D95319", "#EDB120", "#7E2F8E"]}, "legend": null},
          "order": {"field": "o", "type": "quantitative"}
        }
      },
      {
        "width": 274, "height": 243,
        "title": {"text": "×10⁻⁴", "anchor": "start", "frame": "group", "font": "Liberation Serif", "fontSize": 18, "fontWeight": "normal", "color": "#262626", "offset": -6},
        "data": {"name": "ie"},
        "mark": {"type": "line", "strokeWidth": 3, "clip": true},
        "encoding": {
          "x": {"field": "x", "type": "quantitative", "scale": {"domain": [-2.27, 2.11], "nice": false, "zero": false},
                "axis": {"values": [-2, -1, 0, 1, 2], "title": "Electric field [MV/cm]", "labelPadding": 13, "titlePadding": 12}},
          "y": {"field": "y", "type": "quantitative", "scale": {"domain": [-2, 2], "nice": false, "zero": false},
                "axis": {"values": [-2, -1, 0, 1, 2], "title": "Current [A]", "titlePadding": 7}},
          "color": {"field": "s", "type": "nominal", "scale": {"domain": ["1", "2", "3", "4"], "range": ["#0072BD", "#D95319", "#EDB120", "#7E2F8E"]}, "legend": null},
          "order": {"field": "o", "type": "quantitative"}
        }
      }
    ]
  },
  {
    "width": 648, "height": 244,
    "title": {"text": "15 nm HZO, dep. temp. 200", "anchor": "middle", "frame": "group", "font": "DejaVu Sans", "fontSize": 19, "fontWeight": "bold", "color": "#000000", "offset": -3},
    "data": {"name": "it"},
    "mark": {"type": "line", "strokeWidth": 2, "clip": true},
    "encoding": {
      "x": {"field": "t", "type": "quantitative", "scale": {"domain": [-1.834, 1.792], "nice": false, "zero": false},
            "axis": {"values": [-1.5, -1, -0.5, 0, 0.5, 1, 1.5], "title": "Time [ms]", "labelPadding": 16.5, "titlePadding": 8.5}},
      "y": {"field": "v", "type": "quantitative", "scale": {"domain": [-0.2, 0.2], "nice": false, "zero": false},
            "axis": {"values": [-0.2, -0.1, 0, 0.1, 0.2], "title": "Current [mA]", "labelPadding": 10, "titlePadding": 12}},
      "color": {"field": "s", "type": "nominal", "scale": {"domain": ["1", "2", "3", "4"], "range": ["#0072BD", "#D95319", "#EDB120", "#7E2F8E"]}, "legend": null}
    }
  }
]
}
